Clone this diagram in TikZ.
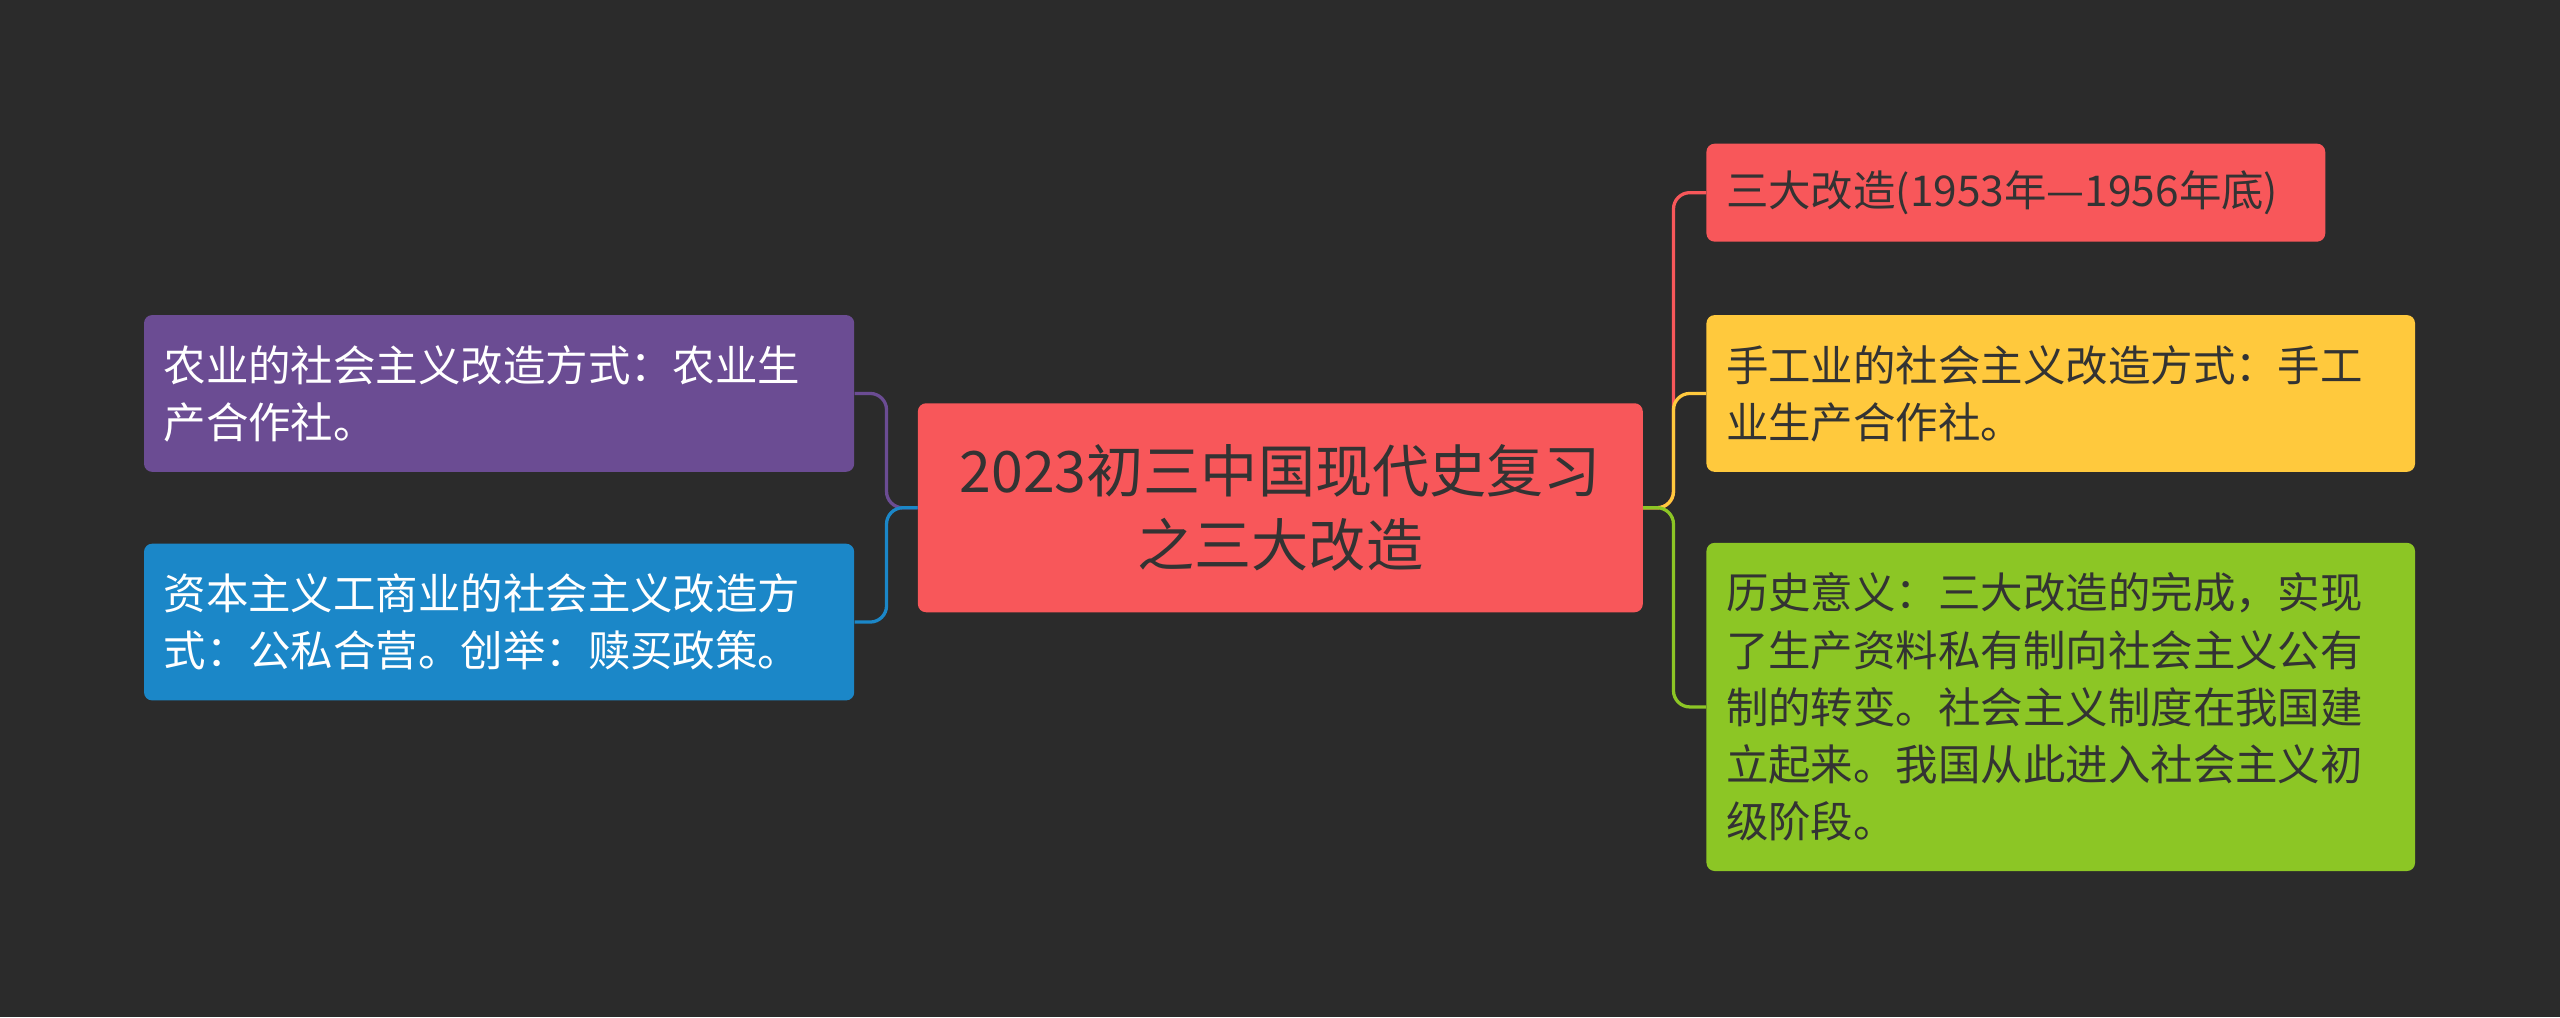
\documentclass[tikz,border=0pt]{standalone}
\usepackage{fontspec}
\setmainfont{Noto Sans CJK SC}
\usetikzlibrary{positioning}

\definecolor{bgcol}{HTML}{2B2B2B}
\definecolor{redcol}{HTML}{F8575A}
\definecolor{purplecol}{HTML}{6B4C93}
\definecolor{bluecol}{HTML}{1B87C8}
\definecolor{yellowcol}{HTML}{FFC93D}
\definecolor{greencol}{HTML}{8CC625}
\definecolor{darktext}{HTML}{333333}

\begin{document}
\begin{tikzpicture}[
    x=1pt, y=-1pt,
    topicnode/.style={
        rectangle,
        rounded corners = 5pt,
        anchor = west,
        align = left,
        inner xsep = 12pt,
        inner ysep = 0pt,
        font = \fontsize{26}{35}\selectfont,
        },
    mainnode/.style={
        topicnode,
        fill = redcol,
        text = darktext,
        align = center,
        text width = 420pt,
        minimum height = 128pt,
        font = \fontsize{35}{45}\selectfont,
        },
    branch/.style={
        line width = 2pt,
        rounded corners = 10pt,
        },
]

\fill[bgcol] (0,0) rectangle (1568,623);
\useasboundingbox (0,0) rectangle (1568,623);

\node[mainnode] (root) at (562,311) {2023初三中国现代史复习\\之三大改造};

% left side
\node[topicnode, fill=purplecol, text=white, text width=411pt, minimum height=96pt]
    (farm) at (88,241) {农业的社会主义改造方式：农业生\\产合作社。};
\node[topicnode, fill=bluecol, text=white, text width=411pt, minimum height=96pt]
    (trade) at (88,381) {资本主义工商业的社会主义改造方\\式：公私合营。创举：赎买政策。};

% right side
\node[topicnode, fill=redcol, text=darktext, text width=355pt, minimum height=60pt]
    (period) at (1045,118) {三大改造(1953年—1956年底)};
\node[topicnode, fill=yellowcol, text=darktext, text width=410pt, minimum height=96pt]
    (craft) at (1045,241) {手工业的社会主义改造方式：手工\\业生产合作社。};
\node[topicnode, fill=greencol, text=darktext, text width=410pt, minimum height=201pt]
    (meaning) at (1045,433) {历史意义：三大改造的完成，实现\\了生产资料私有制向社会主义公有\\制的转变。社会主义制度在我国建\\立起来。我国从此进入社会主义初\\级阶段。};

\coordinate (lj) at (543,311);
\coordinate (rj) at (1025,311);

\draw[branch, purplecol] (root.west) -- (lj) |- (farm.east);
\draw[branch, bluecol] (root.west) -- (lj) |- (trade.east);
\draw[branch, redcol] (root.east) -- (rj) |- (period.west);
\draw[branch, yellowcol] (root.east) -- (rj) |- (craft.west);
\draw[branch, greencol] (root.east) -- (rj) |- (meaning.west);

\end{tikzpicture}
\end{document}
